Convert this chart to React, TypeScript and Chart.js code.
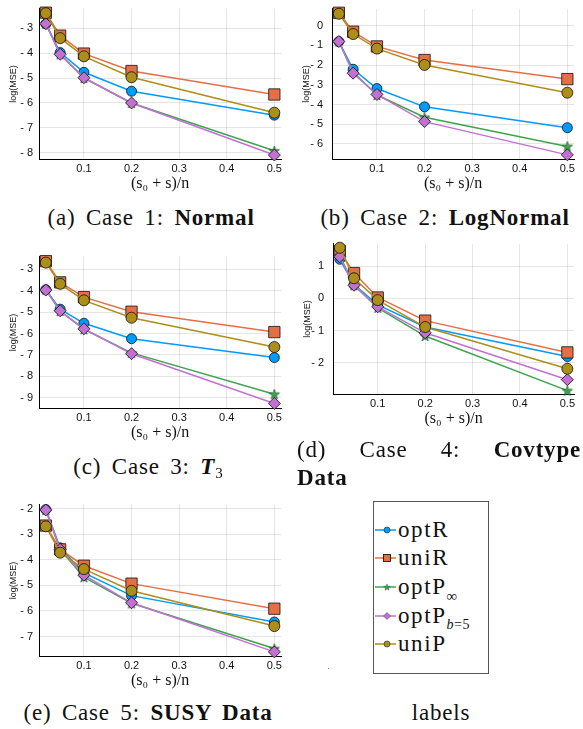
import React, { useEffect, useRef } from 'react';
import { Chart, registerables } from 'chart.js';

Chart.register(...registerables);

// ---------- data ----------
const xValues = [0.02, 0.05, 0.1, 0.2, 0.5];
const xTicks = [0.1, 0.2, 0.3, 0.4, 0.5];
const seriesNames = ['optR', 'uniR', 'optP∞', 'optP b=5', 'uniP'];
const seriesColors = ['#009AFA', '#E36F47', '#3EA44E', '#C271D2', '#AC8E18'];

// (a) Case 1: Normal
const normalOptR = [-2.83, -3.98, -4.77, -5.53, -6.49];
const normalUniR = [-2.38, -3.3, -4.02, -4.72, -5.66];
const normalOptPInf = [-2.82, -4.05, -5.0, -6.0, -7.92];
const normalOptPb5 = [-2.82, -4.05, -4.99, -6.0, -8.09];
const normalUniP = [-2.4, -3.4, -4.13, -4.97, -6.39];
const normalYTicks = [-8, -7, -6, -5, -4, -3];

// (b) Case 2: LogNormal
const logNormalOptR = [-0.8, -2.21, -3.19, -4.12, -5.18];
const logNormalUniR = [0.66, -0.3, -1.05, -1.74, -2.71];
const logNormalOptPInf = [-0.8, -2.35, -3.52, -4.65, -6.13];
const logNormalOptPb5 = [-0.8, -2.41, -3.49, -4.87, -6.56];
const logNormalUniP = [0.61, -0.42, -1.16, -1.99, -3.4];
const logNormalYTicks = [-6, -5, -4, -3, -2, -1, 0];

// (c) Case 3: T3
const t3OptR = [-3.95, -4.86, -5.52, -6.24, -7.12];
const t3UniR = [-2.62, -3.61, -4.3, -4.98, -5.93];
const t3OptPInf = [-3.95, -4.95, -5.8, -6.9, -8.83];
const t3OptPb5 = [-3.97, -4.94, -5.78, -6.94, -9.26];
const t3UniP = [-2.69, -3.68, -4.45, -5.26, -6.63];
const t3YTicks = [-9, -8, -7, -6, -5, -4, -3];

// (d) Case 4: Covtype Data
const covOptR = [1.22, 0.43, -0.2, -0.89, -1.81];
const covUniR = [1.47, 0.79, 0.03, -0.69, -1.68];
const covOptPInf = [1.33, 0.41, -0.29, -1.17, -2.87];
const covOptPb5 = [1.3, 0.41, -0.26, -1.07, -2.53];
const covUniP = [1.58, 0.63, -0.05, -0.89, -2.19];
const covYTicks = [-2, -1, 0, 1];

// (e) Case 5: SUSY Data
const susyOptR = [-2.03, -3.53, -4.51, -5.4, -6.43];
const susyUniR = [-2.66, -3.59, -4.23, -4.93, -5.91];
const susyOptPInf = [-2.05, -3.6, -4.68, -5.7, -7.47];
const susyOptPb5 = [-2.05, -3.59, -4.6, -5.68, -7.6];
const susyUniP = [-2.69, -3.72, -4.36, -5.21, -6.59];
const susyYTicks = [-7, -6, -5, -4, -3, -2];

// ---------- layout ----------
type PanelCfg = {
  series: number[][];
  yTicks: number[];
  yMin: number;
  yMax: number;
  left: number;
  top: number;
  width: number;
  height: number;
  tickPad: number;
};

const X_MIN = 0.0056;
const X_MAX = 0.5144;

const panels: PanelCfg[] = [
  { series: [normalOptR, normalUniR, normalOptPInf, normalOptPb5, normalUniP], yTicks: normalYTicks, yMin: -8.248, yMax: -2.224, left: 0, top: 0, width: 290, height: 195, tickPad: 6 },
  { series: [logNormalOptR, logNormalUniR, logNormalOptPInf, logNormalOptPb5, logNormalUniP], yTicks: logNormalYTicks, yMin: -6.77, yMax: 0.862, left: 293, top: 0, width: 290, height: 195, tickPad: 9 },
  { series: [t3OptR, t3UniR, t3OptPInf, t3OptPb5, t3UniP], yTicks: t3YTicks, yMin: -9.473, yMax: -2.418, left: 0, top: 248, width: 290, height: 196, tickPad: 6 },
  { series: [covOptR, covUniR, covOptPInf, covOptPb5, covUniP], yTicks: covYTicks, yMin: -2.976, yMax: 1.703, left: 294, top: 235, width: 289, height: 195, tickPad: 9 },
  { series: [susyOptR, susyUniR, susyOptPInf, susyOptPb5, susyUniP], yTicks: susyYTicks, yMin: -7.76, yMax: -1.847, left: 0, top: 496, width: 290, height: 196, tickPad: 6 },
];

function makeStar(outer: number, inner: number): HTMLCanvasElement {
  const size = Math.ceil(outer * 2 + 3);
  const c = document.createElement('canvas');
  c.width = size;
  c.height = size;
  const ctx = c.getContext('2d')!;
  const cx = size / 2;
  const cy = size / 2 + 0.5;
  ctx.beginPath();
  for (let i = 0; i < 10; i++) {
    const r = i % 2 === 0 ? outer : inner;
    const a = -Math.PI / 2 + (i * Math.PI) / 5;
    const px = cx + r * Math.cos(a);
    const py = cy + r * Math.sin(a);
    if (i === 0) ctx.moveTo(px, py);
    else ctx.lineTo(px, py);
  }
  ctx.closePath();
  ctx.fillStyle = '#3EA44E';
  ctx.fill();
  ctx.strokeStyle = '#1d4d25';
  ctx.lineWidth = 0.6;
  ctx.stroke();
  return c;
}

const fmtY = (v: number) => (v < 0 ? '- ' + Math.abs(v) : String(v));

function Panel({ cfg }: { cfg: PanelCfg }) {
  const ref = useRef<HTMLCanvasElement>(null);
  useEffect(() => {
    if (!ref.current) return;
    const star = makeStar(5.5, 2.3);
    const pointStyles: any[] = ['circle', 'rect', star, 'rectRot', 'circle'];
    const pointRadii = [5, 8, 6, 6, 5.5];
    const chart = new Chart(ref.current, {
      type: 'line',
      data: {
        datasets: cfg.series.map((s, i) => ({
          label: seriesNames[i],
          data: xValues.map((x, j) => ({ x, y: s[j] })),
          borderColor: seriesColors[i],
          backgroundColor: seriesColors[i],
          pointBackgroundColor: seriesColors[i],
          pointBorderColor: '#111',
          pointBorderWidth: 0.8,
          pointStyle: pointStyles[i],
          pointRadius: pointRadii[i],
          borderWidth: 1.5,
          tension: 0,
          fill: false,
          clip: false as any,
          order: 5 - i,
        })),
      },
      options: {
        responsive: false,
        animation: false,
        devicePixelRatio: 1,
        layout: { padding: { left: 0, right: 5, top: 6, bottom: 0 } },
        plugins: { legend: { display: false }, tooltip: { enabled: false } },
        scales: {
          x: {
            type: 'linear',
            min: X_MIN,
            max: X_MAX,
            afterBuildTicks: (s: any) => {
              s.ticks = xTicks.map((v) => ({ value: v }));
            },
            afterFit: (s: any) => {
              s.height = 36;
              s.paddingLeft = 0;
              s.paddingRight = 0;
            },
            grid: { color: 'rgba(0,0,0,0.1)', lineWidth: 1, drawTicks: false },
            border: { display: true, color: '#000', width: 1 },
            ticks: {
              autoSkip: false,
              maxRotation: 0,
              padding: 3,
              color: '#111',
              font: { family: '"Liberation Sans", Arial, sans-serif', size: 11 },
              callback: (v: any) => String(v),
            },
            title: {
              display: true,
              text: '(s₀ + s)/n',
              color: '#111',
              font: { family: '"Liberation Serif", serif', size: 16 },
              padding: { top: 0, bottom: 2 },
            },
          },
          y: {
            type: 'linear',
            min: cfg.yMin,
            max: cfg.yMax,
            afterBuildTicks: (s: any) => {
              s.ticks = cfg.yTicks.map((v) => ({ value: v }));
            },
            afterFit: (s: any) => {
              s.width = 39;
              s.paddingTop = 0;
              s.paddingBottom = 0;
            },
            grid: { color: 'rgba(0,0,0,0.1)', lineWidth: 1, drawTicks: false },
            border: { display: true, color: '#000', width: 1 },
            ticks: {
              autoSkip: false,
              padding: cfg.tickPad,
              color: '#111',
              font: { family: '"Liberation Sans", Arial, sans-serif', size: 11 },
              callback: (v: any) => fmtY(Number(v)),
            },
            title: {
              display: true,
              text: 'log(MSE)',
              color: '#111',
              font: { family: '"Liberation Sans", Arial, sans-serif', size: 9 },
              padding: { top: 8, bottom: 0 },
            },
          },
        },
      },
    } as any);
    return () => chart.destroy();
  }, [cfg]);
  return (
    <canvas
      ref={ref}
      width={cfg.width}
      height={cfg.height}
      style={{ position: 'absolute', left: cfg.left, top: cfg.top, width: cfg.width, height: cfg.height }}
    />
  );
}

const serif = '"Liberation Serif", "Times New Roman", serif';
const capStyle: React.CSSProperties = {
  position: 'absolute',
  fontFamily: serif,
  fontSize: 23,
  lineHeight: '28px',
  letterSpacing: 0.8,
  wordSpacing: 4,
  whiteSpace: 'nowrap',
  color: '#111',
  textAlign: 'center',
};

function LegendMarker({ i }: { i: number }) {
  const c = seriesColors[i];
  let marker: React.ReactNode = null;
  const mx = 12;
  const my = 7;
  if (i === 0 || i === 4) marker = <circle cx={mx} cy={my} r={3} fill={c} stroke="#222" strokeWidth={0.6} />;
  if (i === 1) marker = <rect x={mx - 3.5} y={my - 3.5} width={7} height={7} fill={c} stroke="#000" strokeWidth={0.8} />;
  if (i === 2) {
    const pts: string[] = [];
    for (let k = 0; k < 10; k++) {
      const r = k % 2 === 0 ? 3.5 : 1.5;
      const a = -Math.PI / 2 + (k * Math.PI) / 5;
      pts.push(`${mx + r * Math.cos(a)},${my + 0.4 + r * Math.sin(a)}`);
    }
    marker = <polygon points={pts.join(' ')} fill={c} stroke="#1d4d25" strokeWidth={0.4} />;
  }
  if (i === 3) marker = <polygon points={`${mx - 3.5},${my} ${mx},${my - 3.5} ${mx + 3.5},${my} ${mx},${my + 3.5}`} fill={c} stroke="#333" strokeWidth={0.5} />;
  return (
    <svg width={22} height={14} style={{ position: 'absolute', left: 1, top: 0 }}>
      <line x1={0} y1={my} x2={21} y2={my} stroke={c} strokeWidth={1.5} />
      {marker}
    </svg>
  );
}

function Legend() {
  const rows = [530, 558, 587, 616, 644];
  const boxLeft = 373;
  const boxTop = 501;
  const labels: React.ReactNode[] = [
    <span>optR</span>,
    <span>uniR</span>,
    <span>
      optP<span style={{ fontSize: 15, position: 'relative', top: 7, letterSpacing: 0 }}>∞</span>
    </span>,
    <span>
      optP<span style={{ fontSize: 14, position: 'relative', top: 6, letterSpacing: 0.5 }}><i>b</i>=5</span>
    </span>,
    <span>uniP</span>,
  ];
  return (
    <div
      style={{
        position: 'absolute',
        left: boxLeft,
        top: boxTop,
        width: 114,
        height: 171,
        border: '1px solid #555',
        background: '#fff',
      }}
    >
      {rows.map((y, i) => (
        <div key={i} style={{ position: 'absolute', left: 0, top: y - boxTop - 1 - 14, width: 113, height: 28 }}>
          <div style={{ position: 'absolute', left: 0, top: 7 }}>
            <LegendMarker i={i} />
          </div>
          <div
            style={{
              position: 'absolute',
              left: 24,
              top: 0,
              fontFamily: serif,
              fontSize: 23,
              lineHeight: '28px',
              letterSpacing: 1.6,
              color: '#111',
              whiteSpace: 'nowrap',
            }}
          >
            {labels[i]}
          </div>
        </div>
      ))}
    </div>
  );
}

export default function App() {
  return (
    <div style={{ position: 'fixed', left: 0, top: 0, width: 583, height: 729, background: '#fff', overflow: 'hidden' }}>
      {panels.map((p, i) => (
        <Panel key={i} cfg={p} />
      ))}
      <div style={{ ...capStyle, left: 1, top: 204, width: 300 }}>
        (a) Case 1: <b>Normal</b>
      </div>
      <div style={{ ...capStyle, left: 295, top: 204, width: 300 }}>
        (b) Case 2: <b>LogNormal</b>
      </div>
      <div style={{ ...capStyle, left: -2, top: 453, width: 300 }}>
        (c) Case 3: <b><i>T</i></b>
        <span style={{ fontSize: 15, position: 'relative', top: 4, letterSpacing: 0 }}>3</span>
      </div>
      <div
        style={{
          ...capStyle,
          left: 297,
          top: 436,
          width: 284,
          display: 'flex',
          justifyContent: 'space-between',
          textAlign: 'left',
        }}
      >
        <span>(d)</span>
        <span>Case</span>
        <span>4:</span>
        <b>Covtype</b>
      </div>
      <div style={{ ...capStyle, left: 297, top: 464, textAlign: 'left' }}>
        <b>Data</b>
      </div>
      <div style={{ ...capStyle, left: -2, top: 699, width: 300 }}>
        (e) Case 5: <b>SUSY Data</b>
      </div>
      <div style={{ ...capStyle, left: 291, top: 699, width: 300 }}>labels</div>
      <Legend />
      <div style={{ position: 'absolute', left: 328, top: 668, width: 1, height: 1, background: '#999' }} />
    </div>
  );
}
